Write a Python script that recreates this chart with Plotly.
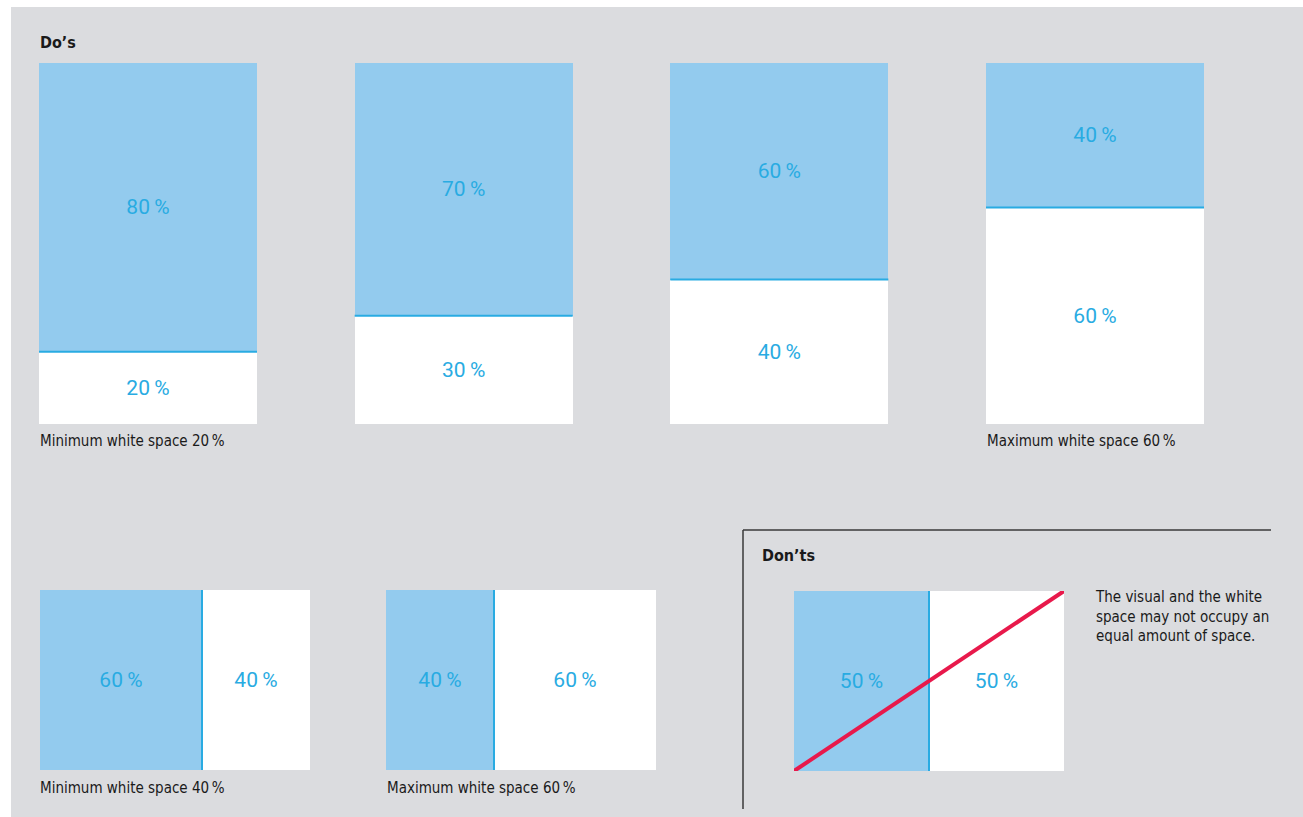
import plotly.graph_objects as go

# ---------------- data ----------------
top_categories = ["A", "B", "C", "D"]
top_visual = [80, 70, 60, 40]
top_white = [20, 30, 40, 60]

bottom_visual = [60, 40]
bottom_white = [40, 60]

dont_visual = [50]
dont_white = [50]

top_captions = ["Minimum white space 20\u2009%", "Maximum white space 60\u2009%"]
bottom_captions = ["Minimum white space 40\u2009%", "Maximum white space 60\u2009%"]
dont_note = "The visual and the white<br>space may not occupy an<br>equal amount of space."

# ---------------- style ----------------
W, H = 1303, 817
BG = "#dbdcdf"
BLUE = "#93cbee"
LINE_BLUE = "#29abe2"
LABEL_BLUE = "#29abe2"
RED = "#e8194b"
DARK = "#1a1a1a"
CAP_FONT = "Liberation Sans Narrow, DejaVu Sans Condensed, Arial Narrow, sans-serif"
PCT_FONT = "Roboto, Liberation Sans, sans-serif"


def fx(p):
    return p / W


def fy(p):
    return 1 - p / H


def pct(v):
    return f"{v}\u2009%"


fig = go.Figure()

# ---------- top row (vertical stacked bars) ----------
bw = 0.6906
xs = list(range(len(top_categories)))
fig.add_trace(go.Bar(
    x=xs, y=top_white, width=bw, marker=dict(color="white", line=dict(width=0)),
    text=[pct(v) for v in top_white], textposition="inside", insidetextanchor="middle",
    textangle=0, textfont=dict(color=LABEL_BLUE, size=21, family=PCT_FONT),
    xaxis="x", yaxis="y", hoverinfo="skip", showlegend=False))
fig.add_trace(go.Bar(
    x=xs, y=top_visual, width=bw, marker=dict(color=BLUE, line=dict(width=0)),
    text=[pct(v) for v in top_visual], textposition="inside", insidetextanchor="middle",
    textangle=0, textfont=dict(color=LABEL_BLUE, size=21, family=PCT_FONT),
    xaxis="x", yaxis="y", hoverinfo="skip", showlegend=False))
lx, ly = [], []
for i, v in zip(xs, top_white):
    lx += [i - bw / 2, i + bw / 2, None]
    ly += [v, v, None]
fig.add_trace(go.Scatter(x=lx, y=ly, mode="lines", line=dict(color=LINE_BLUE, width=2),
                         xaxis="x", yaxis="y", hoverinfo="skip", showlegend=False))

# ---------- bottom row + don'ts (horizontal stacked bars) ----------
def hbar(ax, visual, white):
    xa, ya = "x" + ax, "y" + ax
    fig.add_trace(go.Bar(
        y=[0], x=[visual], width=1, orientation="h",
        marker=dict(color=BLUE, line=dict(width=0)),
        text=[pct(visual)], textposition="inside", insidetextanchor="middle", textangle=0,
        textfont=dict(color=LABEL_BLUE, size=21, family=PCT_FONT),
        xaxis=xa, yaxis=ya, hoverinfo="skip", showlegend=False))
    fig.add_trace(go.Bar(
        y=[0], x=[white], width=1, orientation="h",
        marker=dict(color="white", line=dict(width=0)),
        text=[pct(white)], textposition="inside", insidetextanchor="middle", textangle=0,
        textfont=dict(color=LABEL_BLUE, size=21, family=PCT_FONT),
        xaxis=xa, yaxis=ya, hoverinfo="skip", showlegend=False))
    fig.add_trace(go.Scatter(x=[visual, visual], y=[-0.5, 0.5], mode="lines",
                             line=dict(color=LINE_BLUE, width=2),
                             xaxis=xa, yaxis=ya, hoverinfo="skip", showlegend=False))


hbar("2", bottom_visual[0], bottom_white[0])
hbar("3", bottom_visual[1], bottom_white[1])
hbar("4", dont_visual[0], dont_white[0])
fig.add_trace(go.Scatter(x=[0, dont_visual[0] + dont_white[0]], y=[-0.5, 0.5], mode="lines",
                         line=dict(color=RED, width=4), cliponaxis=False,
                         xaxis="x4", yaxis="y4", hoverinfo="skip", showlegend=False))

hidden = dict(visible=False, fixedrange=True, showgrid=False, zeroline=False)

layout = dict(
    width=W, height=H, autosize=False,
    margin=dict(l=0, r=0, t=0, b=0),
    paper_bgcolor="white", plot_bgcolor="rgba(0,0,0,0)",
    barmode="stack", bargap=0,
    xaxis=dict(domain=[fx(39), fx(1204)], range=[-bw / 2, 3 + bw / 2], **hidden),
    yaxis=dict(domain=[fy(424), fy(63)], range=[0, 100], **hidden),
    xaxis2=dict(domain=[fx(40), fx(310)], range=[0, 100], anchor="y2", **hidden),
    yaxis2=dict(domain=[fy(770), fy(590)], range=[-0.5, 0.5], anchor="x2", **hidden),
    xaxis3=dict(domain=[fx(386), fx(656)], range=[0, 100], anchor="y3", **hidden),
    yaxis3=dict(domain=[fy(770), fy(590)], range=[-0.5, 0.5], anchor="x3", **hidden),
    xaxis4=dict(domain=[fx(794), fx(1064)], range=[0, 100], anchor="y4", **hidden),
    yaxis4=dict(domain=[fy(771), fy(591)], range=[-0.5, 0.5], anchor="x4", **hidden),
    showlegend=False,
)
fig.update_layout(**layout)

# background panel and don'ts frame
fig.add_shape(type="rect", xref="paper", yref="paper", x0=fx(11), x1=1, y0=0, y1=fy(7),
              fillcolor=BG, line=dict(width=0), layer="below")
fig.add_shape(type="line", xref="paper", yref="paper", x0=fx(743), x1=fx(1271),
              y0=fy(530), y1=fy(530), line=dict(color="#3a3a3a", width=1.5))
fig.add_shape(type="line", xref="paper", yref="paper", x0=fx(743), x1=fx(743),
              y0=fy(530), y1=fy(809), line=dict(color="#3a3a3a", width=1.5))


def note(text, x, y, size=15, bold=False, yanchor="middle"):
    fig.add_annotation(
        text=f"<b>{text}</b>" if bold else text, xref="paper", yref="paper",
        x=fx(x), y=fy(y), xanchor="left", yanchor=yanchor, showarrow=False, align="left",
        font=dict(family=CAP_FONT, size=size, color=DARK))


note("Do\u2019s", 38, 43, size=16, bold=True)
note("Don\u2019ts", 760, 555, size=16, bold=True)
note(top_captions[0], 38, 441)
note(top_captions[1], 985, 441)
note(bottom_captions[0], 38, 788)
note(bottom_captions[1], 385, 788)
fig.add_annotation(
    text=dont_note, xref="paper", yref="paper", x=fx(1093), y=fy(586),
    xanchor="left", yanchor="top", showarrow=False, align="left",
    font=dict(family=CAP_FONT, size=15, color=DARK))

fig.write_html("out.html", config=dict(displayModeBar=False, staticPlot=True),
               post_script="document.body.style.margin='0';document.body.style.overflow='hidden';")
